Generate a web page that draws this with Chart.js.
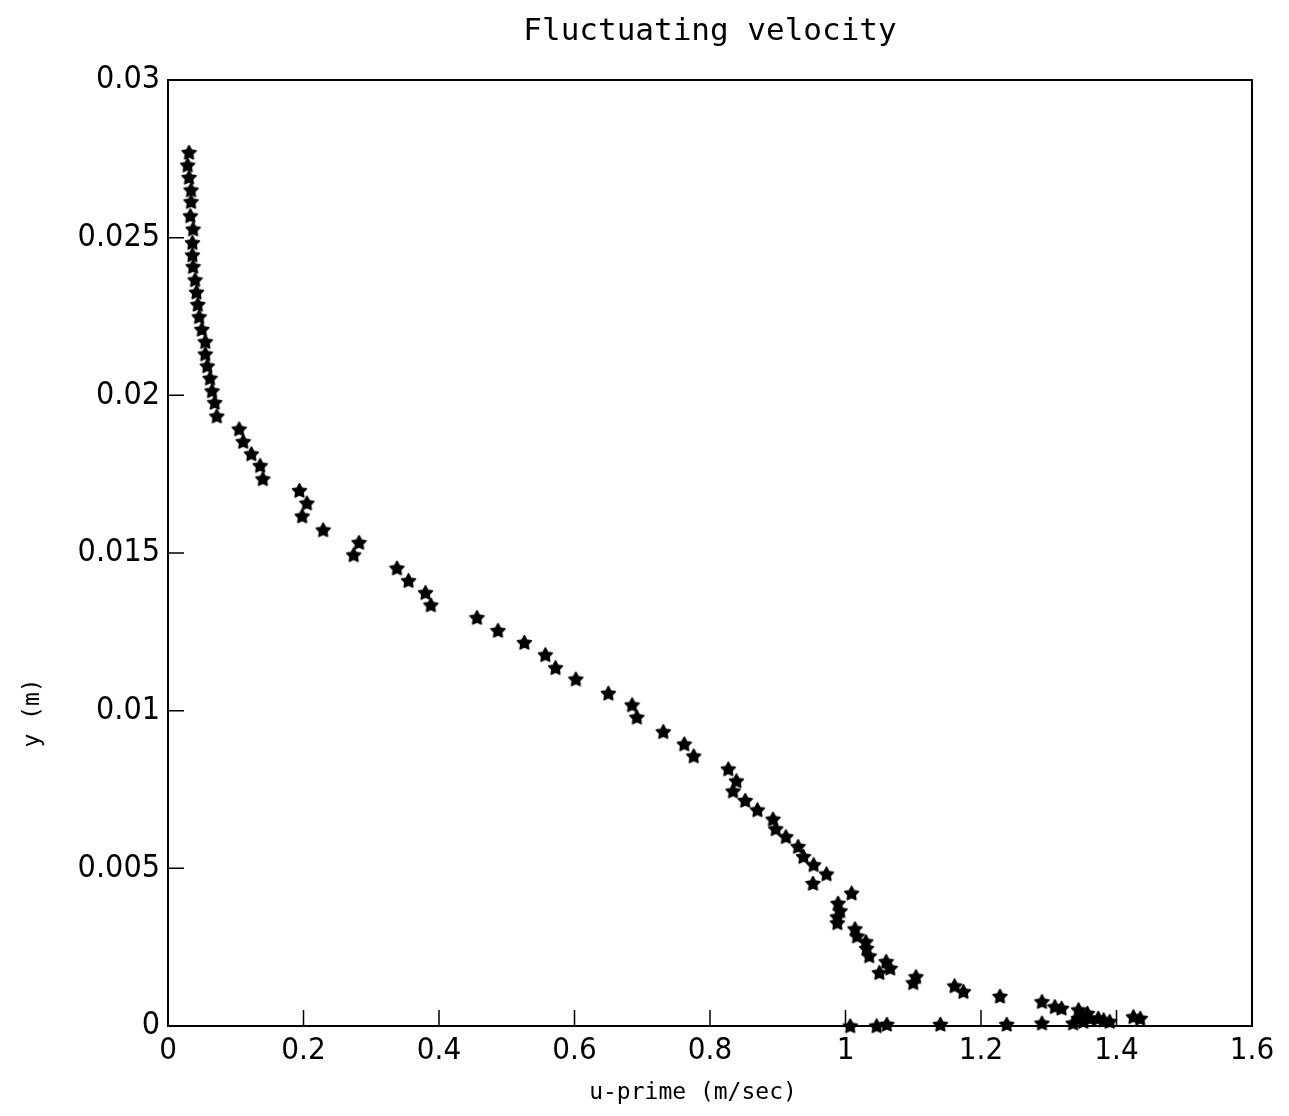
<!DOCTYPE html>
<html>
<head>
<meta charset="utf-8">
<script src="https://cdn.jsdelivr.net/npm/chart.js@4.4.1/dist/chart.umd.min.js"></script>
<style>
  html, body { margin: 0; padding: 0; background: #fff; }
  #wrap { width: 1289px; height: 1116px; position: relative; }
</style>
</head>
<body>
<div id="wrap"><canvas id="c"></canvas></div>
<script>
// Labels
const chartTitle = 'Fluctuating velocity';
const xAxisTitle = 'u-prime (m/sec)';
const yAxisTitle = 'y (m)';
const xTickLabels = ['0', '0.2', '0.4', '0.6', '0.8', '1', '1.2', '1.4', '1.6'];
const yTickLabels = ['0', '0.005', '0.01', '0.015', '0.02', '0.025', '0.03'];

// Measured profile: fluctuating velocity u' (m/s) against wall distance y (m)
const uPrime = [
  0.031, 0.029, 0.031, 0.034, 0.034, 0.033, 0.037, 0.036, 0.036, 0.037,
  0.040, 0.042, 0.044, 0.046, 0.050, 0.055, 0.055, 0.058, 0.062, 0.065,
  0.069, 0.072, 0.105, 0.111, 0.123, 0.136, 0.140, 0.194, 0.205, 0.198,
  0.229, 0.282, 0.274, 0.338, 0.355, 0.380, 0.388, 0.456, 0.487, 0.526,
  0.557, 0.572, 0.602, 0.650, 0.685, 0.692, 0.731, 0.762, 0.776, 0.827,
  0.839, 0.834, 0.852, 0.870, 0.893, 0.897, 0.912, 0.930, 0.938, 0.953,
  0.972, 0.952, 1.009, 0.989, 0.992, 0.988, 0.988, 1.014, 1.017, 1.030,
  1.031, 1.035, 1.060, 1.066, 1.050, 1.104, 1.100, 1.161, 1.174, 1.228,
  1.290, 1.309, 1.319, 1.344, 1.357, 1.344, 1.361, 1.373, 1.381, 1.390,
  1.425, 1.435, 1.336, 1.351, 1.290, 1.238, 1.140, 1.061, 1.046, 1.007
];
const yPos = [
  0.02770, 0.02730, 0.02691, 0.02651, 0.02614, 0.02569, 0.02527, 0.02484, 0.02445, 0.02408,
  0.02366, 0.02327, 0.02288, 0.02249, 0.02209, 0.02170, 0.02131, 0.02093, 0.02054, 0.02014,
  0.01977, 0.01934, 0.01893, 0.01853, 0.01814, 0.01777, 0.01735, 0.01698, 0.01658, 0.01617,
  0.01573, 0.01533, 0.01494, 0.01452, 0.01412, 0.01374, 0.01335, 0.01295, 0.01254, 0.01216,
  0.01177, 0.01136, 0.01100, 0.01055, 0.01018, 0.00979, 0.00933, 0.00894, 0.00856, 0.00815,
  0.00777, 0.00745, 0.00715, 0.00685, 0.00656, 0.00625, 0.00600, 0.00569, 0.00537, 0.00511,
  0.00482, 0.00452, 0.00421, 0.00389, 0.00365, 0.00346, 0.00327, 0.00308, 0.00285, 0.00267,
  0.00246, 0.00222, 0.00204, 0.00183, 0.00169, 0.00156, 0.00137, 0.00127, 0.00109, 0.00094,
  0.00077, 0.00061, 0.00056, 0.00051, 0.00040, 0.00024, 0.00024, 0.00024, 0.00019, 0.00014,
  0.00029, 0.00024, 0.00009, 0.00014, 0.00009, 0.00005, 0.00005, 0.00005, 0.00000, 0.00000
];

// Filled five-pointed star used as the marker
function makeStar(size) {
  const c = document.createElement('canvas');
  c.width = c.height = size;
  const g = c.getContext('2d');
  const cx = size / 2, cy = size / 2 + 0.5, R = size / 2 - 1.2, r = R * 0.52;
  g.beginPath();
  for (let i = 0; i < 10; i++) {
    const a = -Math.PI / 2 + i * Math.PI / 5;
    const rad = i % 2 ? r : R;
    g.lineTo(cx + rad * Math.cos(a), cy + rad * Math.sin(a));
  }
  g.closePath();
  g.fillStyle = '#000';
  g.fill();
  g.lineJoin = 'round';
  g.lineWidth = 1.6;
  g.strokeStyle = '#000';
  g.stroke();
  return c;
}
const starMarker = makeStar(17);

const monoFamily = '"DejaVu Sans Mono", "Liberation Mono", monospace';
const captionFont = '23px ' + monoFamily;

// Frame, inward tick marks and axis captions
const frameAndTicks = {
  id: 'frameAndTicks',
  afterDatasetsDraw(chart) {
    const { ctx, chartArea: a, scales: { x, y } } = chart;
    ctx.save();
    ctx.strokeStyle = '#000';
    ctx.lineWidth = 1.5;
    ctx.beginPath();
    x.ticks.forEach((t, i) => {
      const px = x.getPixelForTick(i);
      ctx.moveTo(px, a.bottom);
      ctx.lineTo(px, a.bottom - 16);
    });
    y.ticks.forEach((t, i) => {
      const py = y.getPixelForTick(i);
      ctx.moveTo(a.left, py);
      ctx.lineTo(a.left + 16, py);
    });
    ctx.stroke();
    ctx.lineWidth = 2;
    ctx.strokeRect(a.left, a.top, a.right - a.left, a.bottom - a.top);

    ctx.fillStyle = '#000';
    ctx.font = captionFont;
    ctx.textAlign = 'center';
    ctx.textBaseline = 'middle';
    ctx.fillText(xAxisTitle, (a.left + a.right) / 2 - 17, a.bottom + 67);
    ctx.translate(a.left - 135, (a.top + a.bottom) / 2 + 160);
    ctx.rotate(-Math.PI / 2);
    ctx.fillText(yAxisTitle, 0, 0);
    ctx.restore();
  }
};

const tickFamily = '"Liberation Sans Narrow", "DejaVu Sans Condensed", "Liberation Sans", sans-serif';

new Chart(document.getElementById('c'), {
  type: 'scatter',
  data: {
    datasets: [{
      data: uPrime.map((u, i) => ({ x: u, y: yPos[i] })),
      pointStyle: starMarker,
      pointRadius: 8,
      showLine: false,
      clip: false
    }]
  },
  options: {
    responsive: true,
    maintainAspectRatio: false,
    animation: false,
    layout: { padding: { left: 0, right: 37, top: 0, bottom: 0 } },
    plugins: {
      legend: { display: false },
      tooltip: { enabled: false },
      title: {
        display: true,
        text: chartTitle,
        fullSize: false,
        color: '#000',
        font: { family: monoFamily, size: 31, weight: 'normal', lineHeight: 1.2 },
        padding: { top: 13, bottom: 29.8 }
      }
    },
    scales: {
      x: {
        type: 'linear',
        min: 0, max: 1.6,
        border: { display: false },
        grid: { display: false, drawTicks: false },
        ticks: {
          stepSize: 0.2,
          color: '#000',
          font: { family: tickFamily, size: 31 },
          padding: 6,
          maxRotation: 0,
          autoSkip: false,
          callback: (v, i) => xTickLabels[i]
        },
        afterFit: s => { s.height = 90; }
      },
      y: {
        type: 'linear',
        min: 0, max: 0.03,
        border: { display: false },
        grid: { display: false, drawTicks: false },
        ticks: {
          stepSize: 0.005,
          color: '#000',
          font: { family: tickFamily, size: 32 },
          padding: 8,
          autoSkip: false,
          callback: (v, i) => yTickLabels[i]
        },
        afterFit: s => { s.width = 168; }
      }
    }
  },
  plugins: [frameAndTicks]
});
</script>
</body>
</html>
